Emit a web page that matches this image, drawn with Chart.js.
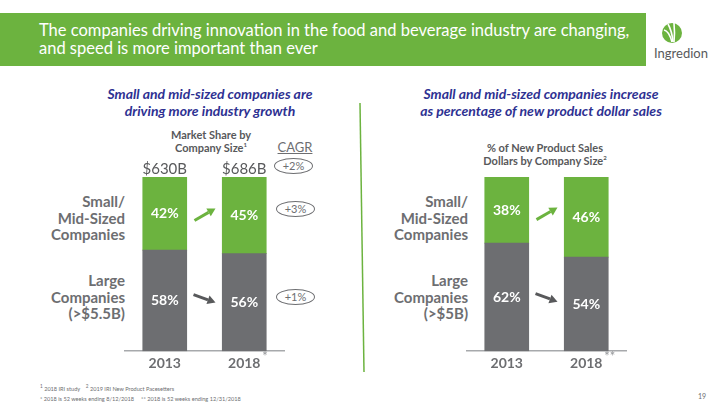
<!DOCTYPE html>
<html>
<head>
<meta charset="utf-8">
<script src="https://cdn.jsdelivr.net/npm/chart.js@4.4.1/dist/chart.umd.min.js"></script>
<style>
body{margin:0;width:720px;height:405px;position:relative;overflow:hidden;background:#fff;font-family:Lato, sans-serif}
.abs{position:absolute}
#header{left:0;top:13px;width:646px;height:53px;background:#6cb33f}
#title{left:39px;top:21px;color:#fff;font-size:16.5px;line-height:18px;white-space:nowrap}
.head{color:#2e3192;font-weight:bold;font-style:italic;font-size:14px;line-height:17px;text-align:center;width:300px}
.sub{color:#58595b;font-weight:bold;font-size:11px;line-height:13px;text-align:center;width:200px}
.cat{color:#6d6e71;font-weight:bold;font-size:15px;line-height:16.5px;text-align:right;width:120px}
.oval{border:1px solid #6d6e71;border-radius:50%;width:37px;height:14px;font-size:11px;line-height:14px;text-align:center;color:#6d6e71}
.foot{left:40px;color:#6d6e71;font-size:5.6px;white-space:nowrap}
</style>
</head>
<body>
<div id="header" class="abs"></div>
<div id="title" class="abs">The companies driving innovation in the food and beverage industry are changing,<br>and speed is more important than ever</div>

<svg class="abs" style="left:660px;top:21px" width="24" height="24" viewBox="0 0 24 24">
  <circle cx="12" cy="12" r="10" fill="#6cb33f"/>
  <path d="M4 9 Q9 10 12 21" stroke="#fff" stroke-width="1.6" fill="none"/>
  <path d="M8 3 Q12 10 13 21" stroke="#fff" stroke-width="1.6" fill="none"/>
  <path d="M14 2 Q15 12 14 21" stroke="#fff" stroke-width="1.6" fill="none"/>
</svg>
<div class="abs" style="left:651px;top:45px;width:60px;text-align:center;color:#58595b;font-size:13px">Ingredion</div>

<div class="abs head" style="left:60px;top:85px">Small and mid-sized companies are<br>driving more industry growth</div>
<div class="abs head" style="left:391px;top:85px">Small and mid-sized companies increase<br>as percentage of new product dollar sales</div>

<div class="abs sub" style="left:111px;top:128px">Market Share by<br>Company Size<sup style="font-size:6px;line-height:0">1</sup></div>
<div class="abs sub" style="left:445px;top:141px">% of New Product Sales<br>Dollars by Company Size<sup style="font-size:6px;line-height:0">2</sup></div>

<div class="abs" style="left:276px;top:139px;width:38px;text-align:center;color:#6d6e71;font-size:13px;text-decoration:underline">CAGR</div>
<div id="cagr"></div>

<div class="abs cat" style="left:5px;top:193px">Small/<br>Mid-Sized<br>Companies</div>
<div class="abs cat" style="left:5px;top:272px">Large<br>Companies<br>(&gt;$5.5B)</div>
<div class="abs cat" style="left:348px;top:193px">Small/<br>Mid-Sized<br>Companies</div>
<div class="abs cat" style="left:348px;top:272px">Large<br>Companies<br>(&gt;$5B)</div>

<svg class="abs" style="left:0;top:0" width="720" height="405">
  <line x1="360" y1="103" x2="364" y2="372" stroke="#6cb33f" stroke-width="1.5"/>
</svg>

<canvas id="left" class="abs" style="left:105px;top:157px" width="200" height="219"></canvas>
<canvas id="right" class="abs" style="left:447px;top:157px" width="200" height="219"></canvas>

<div class="abs foot" style="top:383px"><sup>1</sup> 2018 IRI study &nbsp;&nbsp; <sup>2</sup> 2019 IRI New Product Pacesetters</div>
<div class="abs foot" style="top:395px">* 2018 is 52 weeks ending 8/12/2018 &nbsp;&nbsp;&nbsp; ** 2018 is 52 weeks ending 12/31/2018</div>
<div class="abs" style="left:698px;top:392px;color:#6d6e71;font-size:7px">19</div>

<script>
var years = ["2013", "2018"]
var shareSmall = [42, 45]
var shareLarge = [58, 56]
var shareTotals = ["$630B", "$686B"]
var newSmall = [38, 46]
var newLarge = [62, 54]
var cagrLabels = ["+2%", "+3%", "+1%"]

var green = "#6cb33f"
var gray = "#6d6e71"

// CAGR ovals
var cagrTops = [158, 201, 289]
var cagrLefts = [274, 276, 276]
var cagrBox = document.getElementById("cagr")
for (var i = 0; i < cagrLabels.length; i++) {
  var d = document.createElement("div")
  d.className = "abs oval"
  d.style.left = cagrLefts[i] + "px"
  d.style.top = cagrTops[i] + "px"
  d.textContent = cagrLabels[i]
  cagrBox.appendChild(d)
}

function drawArrow(ctx, x0, y0, x1, y1, color) {
  var a = Math.atan2(y1 - y0, x1 - x0)
  var head = 8
  var bx = x1 - Math.cos(a) * head
  var by = y1 - Math.sin(a) * head
  ctx.save()
  ctx.strokeStyle = color
  ctx.fillStyle = color
  ctx.lineWidth = 3
  ctx.beginPath()
  ctx.moveTo(x0, y0)
  ctx.lineTo(bx, by)
  ctx.stroke()
  ctx.beginPath()
  ctx.moveTo(x1, y1)
  ctx.lineTo(bx + Math.cos(a + Math.PI / 2) * 4.5, by + Math.sin(a + Math.PI / 2) * 4.5)
  ctx.lineTo(bx + Math.cos(a - Math.PI / 2) * 4.5, by + Math.sin(a - Math.PI / 2) * 4.5)
  ctx.closePath()
  ctx.fill()
  ctx.restore()
}

var barExtras = {
  id: "barExtras",
  afterDatasetsDraw: function(chart, args, opts) {
    var ctx = chart.ctx
    var large = chart.getDatasetMeta(0).data
    var small = chart.getDatasetMeta(1).data
    var area = chart.chartArea
    ctx.save()
    ctx.font = "bold 14px Lato"
    ctx.fillStyle = "#fff"
    ctx.textAlign = "center"
    ctx.textBaseline = "middle"
    var mids = [[], []]
    for (var i = 0; i < large.length; i++) {
      var g = large[i], s = small[i]
      var gm = (g.y + g.base) / 2
      var sm = (Math.max(s.y, area.top) + s.base) / 2
      mids[0].push(gm)
      mids[1].push(sm)
      ctx.fillText(chart.data.datasets[0].data[i] + "%", g.x, gm)
      ctx.fillText(chart.data.datasets[1].data[i] + "%", s.x, sm)
    }
    var mid = (large[0].x + large[1].x) / 2
    var cs = (mids[1][0] + mids[1][1]) / 2
    drawArrow(ctx, mid - 10, cs + 6, mid + 11, cs - 6, green)
    var cg = (mids[0][0] + mids[0][1]) / 2 - 3
    drawArrow(ctx, mid - 11, cg - 4, mid + 11, cg + 4, "#58595b")

    if (opts.totals) {
      ctx.font = "15px Lato"
      ctx.fillStyle = "#58595b"
      for (var j = 0; j < opts.totals.length; j++) {
        ctx.fillText(opts.totals[j], large[j].x, area.top - 8)
      }
    }
    ctx.font = "13px Lato"
    ctx.fillStyle = "#939598"
    ctx.textAlign = "left"
    ctx.fillText(opts.star, large[1].x + 18, area.bottom + 6)
    ctx.restore()
  }
}

function renderChart(id, small, large, totals, star) {
  return new Chart(document.getElementById(id), {
    type: "bar",
    data: {
      labels: years,
      datasets: [
        { data: large, backgroundColor: gray, barThickness: 44 },
        { data: small, backgroundColor: green, barThickness: 44 }
      ]
    },
    options: {
      responsive: false,
      animation: false,
      layout: { padding: { left: 20, right: 21, top: 20, bottom: 0 } },
      plugins: {
        legend: { display: false },
        tooltip: { enabled: false },
        barExtras: { totals: totals, star: star }
      },
      scales: {
        x: {
          stacked: true,
          grid: { display: false, drawTicks: false },
          border: { display: true, color: "#a7a9ac", width: 1.5 },
          ticks: { color: "#6d6e71", font: { family: "Lato", size: 14, weight: "bold" }, padding: 4 }
        },
        y: { stacked: true, display: false, min: 0, max: 100 }
      }
    },
    plugins: [barExtras]
  })
}

renderChart("left", shareSmall, shareLarge, shareTotals, "*")
renderChart("right", newSmall, newLarge, null, "**")
</script>
</body>
</html>
